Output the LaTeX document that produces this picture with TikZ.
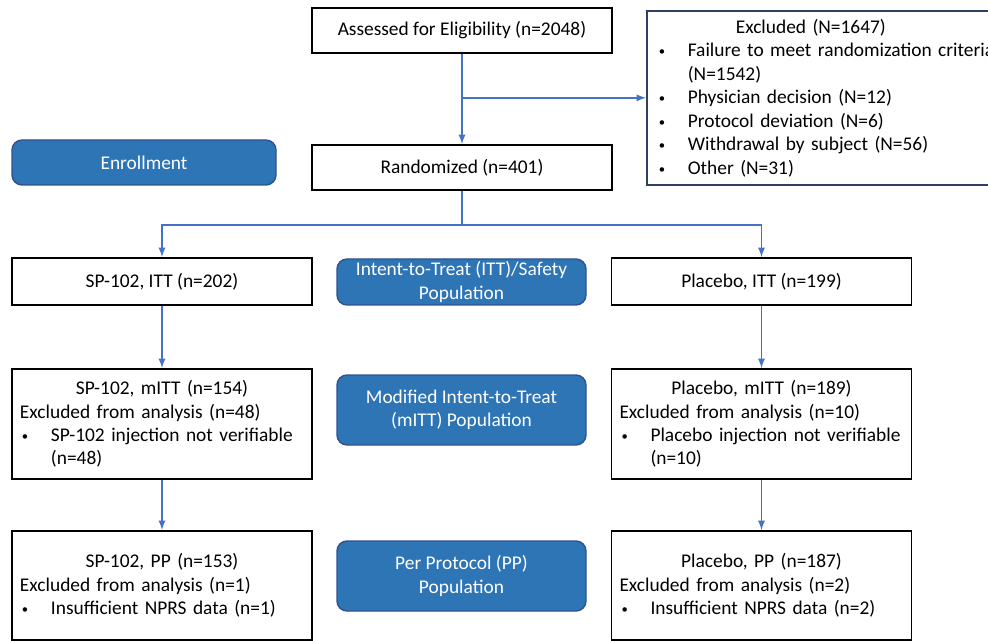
\documentclass[tikz,border=0pt]{standalone}
\usepackage{fontspec}
\setmainfont{Carlito}
\setlength{\parindent}{0pt}

\definecolor{popblue}{RGB}{46,117,182}
\definecolor{popedge}{RGB}{47,82,143}
\definecolor{flowblue}{RGB}{68,114,196}
\definecolor{exclnavy}{RGB}{47,64,97}

% Bulleted line with hanging indent
\newcommand{\bulletline}[1]{\par\hangindent=0.775cm\hangafter=1\noindent
    \makebox[0.775cm][l]{\hspace{0.05cm}\raisebox{0.1ex}{\fontsize{9}{9}\selectfont\textbullet}}#1\par}
\newcommand{\brk}{\hfil\break}

\begin{document}
\begin{tikzpicture}[
    font=\fontsize{13.8}{16.7}\selectfont,
    armbox/.style={draw=black,line width=1.4pt,fill=white,
                   minimum width=7.5cm,inner xsep=0.25cm,inner ysep=0pt},
    detailbox/.style={armbox,text width=7.1cm,inner xsep=0.2cm,align=left},
    popbox/.style={draw=popedge,line width=1pt,fill=popblue,text=white,
                   rounded corners=0.25cm,align=center,inner ysep=0pt,
                   minimum width=6.225cm},
    flow/.style={flowblue,line width=1.3pt,-latex},
    flowline/.style={flowblue,line width=1.3pt},
    ]

    % Frame of the page
    \clip (0,0) rectangle (24.7,-16.025);

    % Enrollment
    \node[armbox,minimum height=1.125cm] (assessed) at (11.55,-0.7625)
        {Assessed for Eligibility (n=2048)};
    \node[armbox,minimum height=1.125cm] (randomized) at (11.55,-4.1875)
        {Randomized (n=401)};
    \node[popbox,minimum width=6.6cm,minimum height=1.125cm] (enrollment)
        at (3.6,-4.0625) {Enrollment};

    % Excluded list
    \node[draw=exclnavy,line width=1.2pt,anchor=north west,text width=8.5cm,
          inner xsep=0.25cm,minimum height=4.35cm,align=left] (excluded)
        at (16.15,-0.25)
        {{\centering\hspace*{-0.8cm}Excluded (N=1647)\par}
         \bulletline{\mbox{Failure to meet randomization criteria}\brk(N=1542)}
         \bulletline{Physician decision (N=12)}
         \bulletline{Protocol deviation (N=6)}
         \bulletline{Withdrawal by subject (N=56)}
         \bulletline{Other (N=31)}};

    \coordinate (branch) at (assessed.south |- excluded.west);
    \draw[flow] (assessed) -- (randomized);
    \draw[flow] (branch) -- (excluded);

    % Intent-to-treat row
    \node[armbox,minimum height=1.175cm] (spitt) at (4.05,-7.0375)
        {SP-102, ITT (n=202)};
    \node[popbox,minimum height=1.15cm] (ittpop) at (11.5375,-7.05)
        {Intent-to-Treat (ITT)/Safety\\Population};
    \node[armbox,minimum height=1.175cm] (plitt) at (19.0375,-7.0375)
        {Placebo, ITT (n=199)};

    \coordinate (split) at (11.55,-5.625);
    \draw[flowline] (randomized) -- (split);
    \draw[flow] (split) -| (spitt);
    \draw[flow] (split) -| (plitt);

    % Modified intent-to-treat row
    \node[detailbox,minimum height=2.75cm] (spmitt) at (4.05,-10.6)
        {{\centering SP-102, mITT (n=154)\par}
         Excluded from analysis (n=48)
         \bulletline{\mbox{SP-102 injection not verifiable}\brk(n=48)}};
    \node[popbox,minimum height=1.75cm] (mittpop) at (11.5375,-10.25)
        {Modified Intent-to-Treat\\(mITT) Population};
    \node[detailbox,minimum height=2.75cm] (plmitt) at (19.0375,-10.6)
        {{\centering Placebo, mITT (n=189)\par}
         Excluded from analysis (n=10)
         \bulletline{\mbox{Placebo injection not verifiable}\brk(n=10)}};

    \draw[flow] (spitt) -- (spmitt);
    \draw[flow] (plitt) -- (plmitt);

    % Per protocol row
    \node[detailbox,minimum height=2.725cm] (sppp) at (4.05,-14.6375)
        {{\centering SP-102, PP (n=153)\par}
         Excluded from analysis (n=1)
         \bulletline{Insufficient NPRS data (n=1)}};
    \node[popbox,minimum height=1.75cm] (pppop) at (11.5375,-14.4)
        {Per Protocol (PP)\\Population};
    \node[detailbox,minimum height=2.725cm] (plpp) at (19.0375,-14.6375)
        {{\centering Placebo, PP (n=187)\par}
         Excluded from analysis (n=2)
         \bulletline{Insufficient NPRS data (n=2)}};

    \draw[flow] (spmitt) -- (sppp);
    \draw[flow] (plmitt) -- (plpp);
\end{tikzpicture}
\end{document}
